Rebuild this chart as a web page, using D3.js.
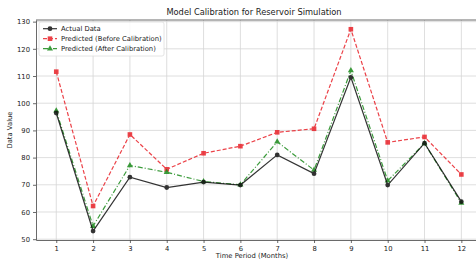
<!DOCTYPE html>
<html>
<head>
<meta charset="utf-8">
<script src="https://cdn.jsdelivr.net/npm/d3@7"></script>
<style>
  body { margin: 0; background: #fff; }
  text { font-family: "DejaVu Sans", sans-serif; fill: #222; }
</style>
</head>
<body>
<div id="chart"></div>
<script>
const months = [1, 2, 3, 4, 5, 6, 7, 8, 9, 10, 11, 12];
const actual = [96.4, 53.0, 72.8, 69.0, 71.0, 69.9, 81.0, 74.1, 109.5, 69.9, 85.3, 63.8];
const beforeCal = [111.6, 62.2, 88.5, 75.7, 81.6, 84.2, 89.3, 90.6, 127.2, 85.6, 87.6, 73.8];
const afterCal = [97.2, 54.8, 77.1, 74.6, 71.2, 70.0, 85.8, 75.4, 112.0, 71.5, 85.2, 63.3];
const yTicks = [50, 60, 70, 80, 90, 100, 110, 120, 130];

const width = 476, height = 262;
const margin = { top: 20, left: 36, bottom: 22 };

const svg = d3.select("#chart").append("svg")
  .attr("width", width)
  .attr("height", height);

const x = d3.scaleLinear()
  .domain([0.45, 12.55])
  .range([margin.left, 481.6]);

const y = d3.scaleLinear()
  .domain([49.7, 130.6])
  .range([height - margin.bottom, margin.top]);

// grid
svg.append("g")
  .selectAll("line")
  .data(months)
  .join("line")
  .attr("x1", d => x(d)).attr("x2", d => x(d))
  .attr("y1", y.range()[0]).attr("y2", y.range()[1])
  .attr("stroke", "#d6d6d6").attr("stroke-width", 0.8);

svg.append("g")
  .selectAll("line")
  .data(yTicks)
  .join("line")
  .attr("x1", x.range()[0]).attr("x2", x.range()[1])
  .attr("y1", d => y(d)).attr("y2", d => y(d))
  .attr("stroke", "#d6d6d6").attr("stroke-width", 0.8);

// axes
const xAxis = svg.append("g")
  .attr("transform", `translate(0,${y.range()[0]})`)
  .call(d3.axisBottom(x).tickValues(months).tickSize(3).tickPadding(3).tickSizeOuter(0));

const yAxis = svg.append("g")
  .attr("transform", `translate(${x.range()[0]},0)`)
  .call(d3.axisLeft(y).tickValues(yTicks).tickSize(3).tickPadding(3).tickSizeOuter(0));

[xAxis, yAxis].forEach(a => {
  a.select(".domain").attr("stroke", "#444").attr("stroke-width", 0.8);
  a.selectAll(".tick line").attr("stroke", "#444").attr("stroke-width", 0.8);
  a.selectAll("text").attr("font-size", "6.8px").attr("fill", "#333")
    .style("font-family", "DejaVu Sans");
});

// top spine
svg.append("line")
  .attr("x1", x.range()[0]).attr("x2", x.range()[1])
  .attr("y1", y.range()[1]).attr("y2", y.range()[1])
  .attr("stroke", "#444").attr("stroke-width", 0.8);

// titles
svg.append("text")
  .attr("x", 254).attr("y", 15)
  .attr("text-anchor", "middle")
  .attr("font-size", "8.3px")
  .text("Model Calibration for Reservoir Simulation");

svg.append("text")
  .attr("x", 252).attr("y", 258)
  .attr("text-anchor", "middle")
  .attr("font-size", "6.8px")
  .text("Time Period (Months)");

svg.append("text")
  .attr("transform", "translate(12,130) rotate(-90)")
  .attr("text-anchor", "middle")
  .attr("font-size", "6.8px")
  .text("Data Value");

const series = [
  { name: "Actual Data", values: actual, color: "#111", dash: null, marker: "circle", opacity: 0.85 },
  { name: "Predicted (Before Calibration)", values: beforeCal, color: "#e8131b", dash: "4,2", marker: "square", opacity: 0.8 },
  { name: "Predicted (After Calibration)", values: afterCal, color: "#1a8a1a", dash: "5,2,1,2", marker: "triangle", opacity: 0.85 }
];

const line = d3.line()
  .x((d, i) => x(months[i]))
  .y(d => y(d));

function drawMarker(g, type, color, cx, cy) {
  if (type === "circle") {
    g.append("circle").attr("cx", cx).attr("cy", cy).attr("r", 2.4).attr("fill", color);
  } else if (type === "square") {
    g.append("rect").attr("x", cx - 2.3).attr("y", cy - 2.3)
      .attr("width", 4.6).attr("height", 4.6).attr("fill", color);
  } else {
    g.append("path")
      .attr("d", d3.symbol(d3.symbolTriangle, 16)())
      .attr("transform", `translate(${cx},${cy})`)
      .attr("fill", color);
  }
}

// draw red first, then green, black on top like the picture
[series[1], series[2], series[0]].forEach(s => {
  const g = svg.append("g").attr("opacity", s.opacity);
  g.append("path")
    .datum(s.values)
    .attr("d", line)
    .attr("fill", "none")
    .attr("stroke", s.color)
    .attr("stroke-width", 1.2)
    .attr("stroke-dasharray", s.dash);
  s.values.forEach((v, i) => drawMarker(g, s.marker, s.color, x(months[i]), y(v)));
});

// legend
const legend = svg.append("g").attr("transform", "translate(39,22)");
legend.append("rect")
  .attr("width", 125).attr("height", 34).attr("rx", 2)
  .attr("fill", "#fff").attr("fill-opacity", 0.85)
  .attr("stroke", "#ddd").attr("stroke-width", 0.8);

series.forEach((s, i) => {
  const ly = 6.7 + i * 10;
  const g = legend.append("g").attr("opacity", s.opacity);
  g.append("line")
    .attr("x1", 4).attr("x2", 18).attr("y1", ly).attr("y2", ly)
    .attr("stroke", s.color).attr("stroke-width", 1.2)
    .attr("stroke-dasharray", s.dash);
  drawMarker(g, s.marker, s.color, 11, ly);
  legend.append("text")
    .attr("x", 22).attr("y", ly + 2.4)
    .attr("font-size", "6.8px")
    .text(s.name);
});
</script>
</body>
</html>
